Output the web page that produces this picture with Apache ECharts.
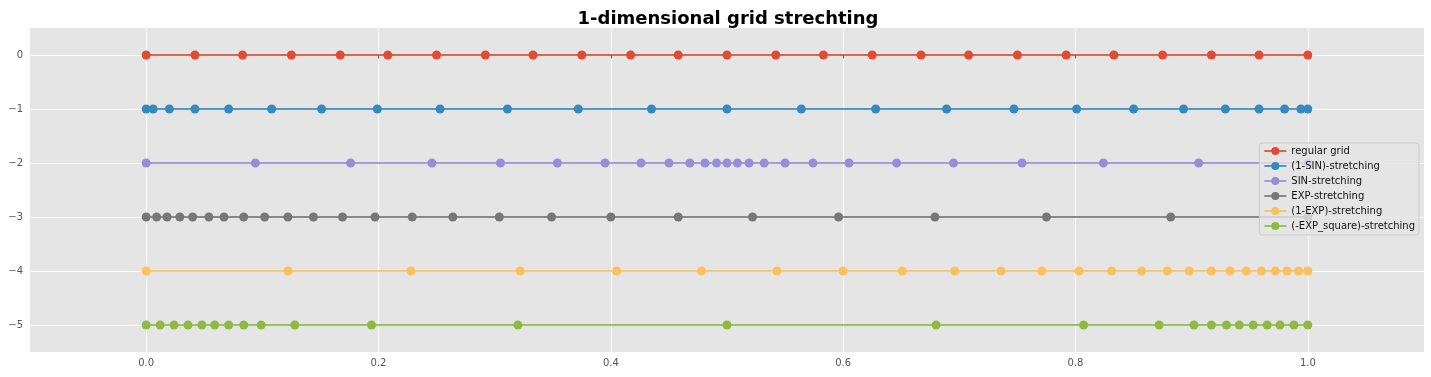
<!DOCTYPE html>
<html>
<head>
<meta charset="utf-8">
<script src="https://cdn.jsdelivr.net/npm/echarts@6/dist/echarts.min.js"></script>
<style>
  html, body { margin: 0; padding: 0; background: #fff; }
  #chart { width: 1431px; height: 377px; }
</style>
</head>
<body>
<div id="chart"></div>
<script>
// grid positions (25 nodes each)
const regularGrid = [0, 0.042, 0.083, 0.125, 0.167, 0.208, 0.25, 0.292, 0.333, 0.375, 0.417, 0.458, 0.5,
  0.542, 0.583, 0.625, 0.667, 0.708, 0.75, 0.792, 0.833, 0.875, 0.917, 0.958, 1.0];
const oneMinusSin = [0, 0.006, 0.02, 0.042, 0.071, 0.108, 0.151, 0.199, 0.253, 0.311, 0.372, 0.435, 0.5,
  0.564, 0.628, 0.689, 0.747, 0.801, 0.85, 0.893, 0.929, 0.958, 0.98, 0.994, 1.0];
const sinStretch = [0, 0.094, 0.176, 0.246, 0.305, 0.354, 0.395, 0.426, 0.45, 0.468, 0.481, 0.491, 0.5,
  0.509, 0.519, 0.532, 0.55, 0.574, 0.605, 0.646, 0.695, 0.754, 0.824, 0.906, 1.0];
const expStretch = [0, 0.009, 0.018, 0.029, 0.04, 0.054, 0.067, 0.084, 0.102, 0.122, 0.144, 0.169, 0.197,
  0.229, 0.264, 0.304, 0.349, 0.4, 0.458, 0.522, 0.596, 0.679, 0.775, 0.882, 1.0];
const oneMinusExp = [0, 0.122, 0.228, 0.322, 0.405, 0.478, 0.543, 0.6, 0.651, 0.696, 0.736, 0.771, 0.803,
  0.831, 0.857, 0.879, 0.898, 0.917, 0.933, 0.947, 0.96, 0.972, 0.982, 0.992, 1.0];
const expSquare = [0, 0.012, 0.024, 0.036, 0.048, 0.059, 0.071, 0.084, 0.099, 0.128, 0.194, 0.32, 0.5,
  0.68, 0.807, 0.872, 0.902, 0.917, 0.93, 0.941, 0.953, 0.965, 0.976, 0.988, 1.0];

const seriesNames = ['regular grid', '(1-SIN)-stretching', 'SIN-stretching', 'EXP-stretching',
  '(1-EXP)-stretching', '(-EXP_square)-stretching'];
const seriesX = [regularGrid, oneMinusSin, sinStretch, expStretch, oneMinusExp, expSquare];
const levels = [0, -1, -2, -3, -4, -5];
const colors = ['#E24A33', '#348ABD', '#988ED5', '#777777', '#FBC15E', '#8EBA42'];

const xTicks = [0, 0.2, 0.4, 0.6, 0.8, 1.0];
const yTicks = [0, -1, -2, -3, -4, -5];

const font = 'DejaVu Sans';
const chart = echarts.init(document.getElementById('chart'));

const series = seriesNames.map((name, i) => ({
  name: name,
  type: 'line',
  data: seriesX[i].map(x => [x, levels[i]]),
  symbol: 'circle',
  symbolSize: 9,
  showSymbol: true,
  color: colors[i],
  lineStyle: { width: 2, opacity: 0.85 },
  itemStyle: { color: colors[i] },
  emphasis: { disabled: true },
  animation: false
}));

chart.setOption({
  backgroundColor: '#ffffff',
  animation: false,
  title: {
    text: '1-dimensional grid strechting',
    left: 723, textAlign: 'center', top: 5,
    textStyle: { fontFamily: font, fontSize: 18, fontWeight: 'bold', color: '#000' }
  },
  grid: { left: 30, right: 7, top: 28, bottom: 25, show: true, backgroundColor: '#E5E5E5', borderWidth: 0 },
  legend: {
    orient: 'vertical',
    right: 12, top: 143,
    itemWidth: 22, itemHeight: 10, itemGap: 5,
    padding: [3, 4, 4, 4],
    backgroundColor: 'rgba(229,229,229,0.8)',
    borderColor: '#CCCCCC', borderWidth: 1, borderRadius: 3,
    textStyle: { fontFamily: font, fontSize: 10, color: '#111' },
    data: seriesNames
  },
  xAxis: {
    type: 'value', min: -0.1, max: 1.1,
    axisLine: { show: false },
    axisTick: { show: true, length: 3.5, lineStyle: { color: '#555' }, customValues: xTicks },
    axisLabel: {
      customValues: xTicks, margin: 6,
      formatter: v => v.toFixed(1),
      fontFamily: font, fontSize: 10, color: '#555'
    },
    splitLine: { show: true, lineStyle: { color: '#fff', width: 1 } }
  },
  yAxis: {
    type: 'value', min: -5.5, max: 0.5,
    axisLine: { show: false },
    axisTick: { show: true, length: 3.5, lineStyle: { color: '#555' }, customValues: yTicks },
    axisLabel: {
      customValues: yTicks, margin: 7,
      formatter: v => v < 0 ? '\u2212' + (-v) : String(v),
      fontFamily: font, fontSize: 10, color: '#555'
    },
    splitLine: { show: true, lineStyle: { color: '#fff', width: 1 } }
  },
  series: series
});
</script>
</body>
</html>
